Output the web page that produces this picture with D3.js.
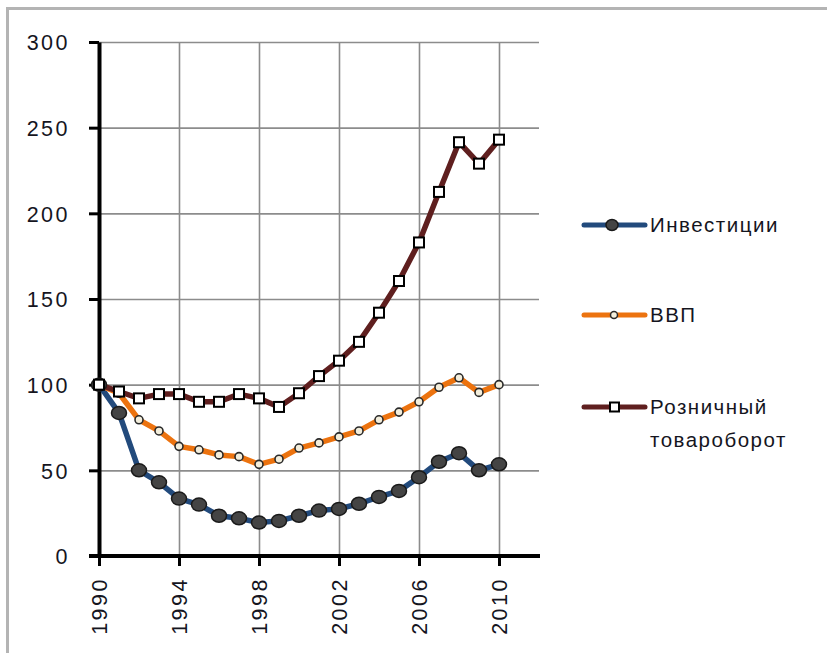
<!DOCTYPE html>
<html>
<head>
<meta charset="utf-8">
<script src="https://cdn.jsdelivr.net/npm/d3@7"></script>
<style>
  body { margin: 0; background: #fff; }
  svg { display: block; font-family: "Liberation Sans", Arial, sans-serif; }
</style>
</head>
<body>
<script>
// data (1990 = 100)
let years = d3.range(1990, 2011)
let investments = [100, 83.5, 50, 43, 33.5, 30, 23.5, 22, 19.5, 20.5, 23.5, 26.5, 27.5, 30.5, 34.5, 38, 46, 55, 60, 50, 53.5]
let gdp = [100, 95, 79.5, 73, 64, 62, 59, 58, 53.5, 56.5, 63, 66, 69.5, 73, 79.5, 84, 90, 98.5, 104, 95.5, 100]
let retail = [100, 96, 92, 94.5, 94.5, 90, 90, 94.5, 92, 87, 95, 105, 114, 125, 142, 160.5, 183, 212.5, 241.5, 229, 243]
let seriesNames = ["Инвестиции", "ВВП", "Розничный товароборот"]
let yTicks = [0, 50, 100, 150, 200, 250, 300]
let xTicks = [1990, 1994, 1998, 2002, 2006, 2010]

let width = 827
let height = 653

let svg = d3.select("body")
            .append("svg")
            .attr("width", width)
            .attr("height", height)

// outer chart frame (only left and top edges show in the picture)
svg.append("rect")
    .attr("x", 7.5)
    .attr("y", 8.5)
    .attr("width", 840)
    .attr("height", 660)
    .attr("fill", "none")
    .attr("stroke", "#b4b4b4")
    .attr("stroke-width", 3)

let xScale = d3.scaleLinear()
                .domain([1990, 2012])
                .range([99, 539])

let yScale = d3.scaleLinear()
                .domain([0, 300])
                .range([556, 42])

// grid
svg.append("g")
    .attr("transform", "translate(99,0)")
    .call(d3.axisLeft(yScale).tickValues(yTicks).tickSize(-(539 - 99)).tickFormat(""))
    .call(g => g.select(".domain").remove())
    .selectAll("line")
    .attr("stroke", "#8c8c8c")
    .attr("stroke-width", 1.6)

svg.append("g")
    .attr("transform", "translate(0,556)")
    .call(d3.axisBottom(xScale).tickValues(xTicks.slice(1)).tickSize(-(556 - 42)).tickFormat(""))
    .call(g => g.select(".domain").remove())
    .selectAll("line")
    .attr("stroke", "#8c8c8c")
    .attr("stroke-width", 1.6)

// axes
let yAxis = svg.append("g")
                .attr("transform", "translate(99,0)")
                .call(d3.axisLeft(yScale).tickValues(yTicks).tickSize(10).tickPadding(19).tickSizeOuter(0))
yAxis.select(".domain").attr("stroke", "#000").attr("stroke-width", 4)
yAxis.selectAll(".tick line").attr("stroke", "#000").attr("stroke-width", 3)
yAxis.selectAll("text")
    .attr("font-size", 21.5)
    .attr("letter-spacing", 2.5)
    .attr("fill", "#15151e")
    .attr("dy", "0.36em")

let xAxis = svg.append("g")
                .attr("transform", "translate(0,556)")
                .call(d3.axisBottom(xScale).tickValues(xTicks).tickSize(10).tickSizeOuter(0).tickFormat(d3.format("d")))
xAxis.select(".domain").attr("stroke", "#000").attr("stroke-width", 4).attr("d", "M89,0H540")
xAxis.selectAll(".tick line").attr("stroke", "#000").attr("stroke-width", 3)
xAxis.selectAll("text")
    .attr("font-size", 21.5)
    .attr("letter-spacing", 2.5)
    .attr("fill", "#15151e")
    .attr("transform", "rotate(-90)")
    .attr("text-anchor", "end")
    .attr("x", -21)
    .attr("y", 0)
    .attr("dy", "0.36em")

// lines
let line = d3.line()
            .x((d, i) => xScale(years[i]))
            .y(d => yScale(d))

let drawSeries = (values, color) => {
    svg.append("path")
        .datum(values)
        .attr("d", line)
        .attr("fill", "none")
        .attr("stroke", color)
        .attr("stroke-width", 5.5)
        .attr("stroke-linejoin", "round")
}

drawSeries(investments, "#224a7c")
drawSeries(gdp, "#ec730f")
drawSeries(retail, "#5f1f1f")

svg.append("g")
    .selectAll("ellipse")
    .data(investments)
    .enter()
    .append("ellipse")
    .attr("cx", (d, i) => xScale(years[i]))
    .attr("cy", d => yScale(d))
    .attr("rx", 7.5)
    .attr("ry", 6.5)
    .attr("fill", "#444")
    .attr("stroke", "#1a1a1a")
    .attr("stroke-width", 1.5)

svg.append("g")
    .selectAll("circle")
    .data(gdp)
    .enter()
    .append("circle")
    .attr("cx", (d, i) => xScale(years[i]))
    .attr("cy", d => yScale(d))
    .attr("r", 4)
    .attr("fill", "#f3eedc")
    .attr("stroke", "#2a2a2a")
    .attr("stroke-width", 1.6)

svg.append("g")
    .selectAll("rect")
    .data(retail)
    .enter()
    .append("rect")
    .attr("x", (d, i) => xScale(years[i]) - 5)
    .attr("y", d => yScale(d) - 5)
    .attr("width", 10)
    .attr("height", 10)
    .attr("fill", "#fff")
    .attr("stroke", "#000")
    .attr("stroke-width", 2)

// legend
let legendY = [225, 315, 407]
let legendColors = ["#224a7c", "#ec730f", "#5f1f1f"]

legendY.forEach((y, i) => {
    svg.append("line")
        .attr("x1", 584).attr("x2", 645)
        .attr("y1", y).attr("y2", y)
        .attr("stroke", legendColors[i])
        .attr("stroke-width", 5)
        .attr("stroke-linecap", "round")
})

svg.append("ellipse")
    .attr("cx", 612).attr("cy", legendY[0])
    .attr("rx", 6).attr("ry", 5.5)
    .attr("fill", "#444").attr("stroke", "#1a1a1a").attr("stroke-width", 1.5)
svg.append("circle")
    .attr("cx", 614).attr("cy", legendY[1])
    .attr("r", 3.5)
    .attr("fill", "#f3eedc").attr("stroke", "#2a2a2a").attr("stroke-width", 1.5)
svg.append("rect")
    .attr("x", 610).attr("y", legendY[2] - 4.5)
    .attr("width", 9).attr("height", 9)
    .attr("fill", "#fff").attr("stroke", "#000").attr("stroke-width", 2)

let legendText = svg.append("g")
                    .attr("font-size", 20.5)
                    .attr("letter-spacing", 1.5)
                    .attr("fill", "#15151e")

legendText.append("text").attr("x", 650).attr("y", legendY[0] + 7).text(seriesNames[0])
legendText.append("text").attr("x", 650).attr("y", legendY[1] + 7).text(seriesNames[1])
let words = seriesNames[2].split(" ")
legendText.append("text").attr("x", 650).attr("y", legendY[2] + 7).text(words[0])
legendText.append("text").attr("x", 650).attr("y", legendY[2] + 40).text(words[1])
</script>
</body>
</html>
